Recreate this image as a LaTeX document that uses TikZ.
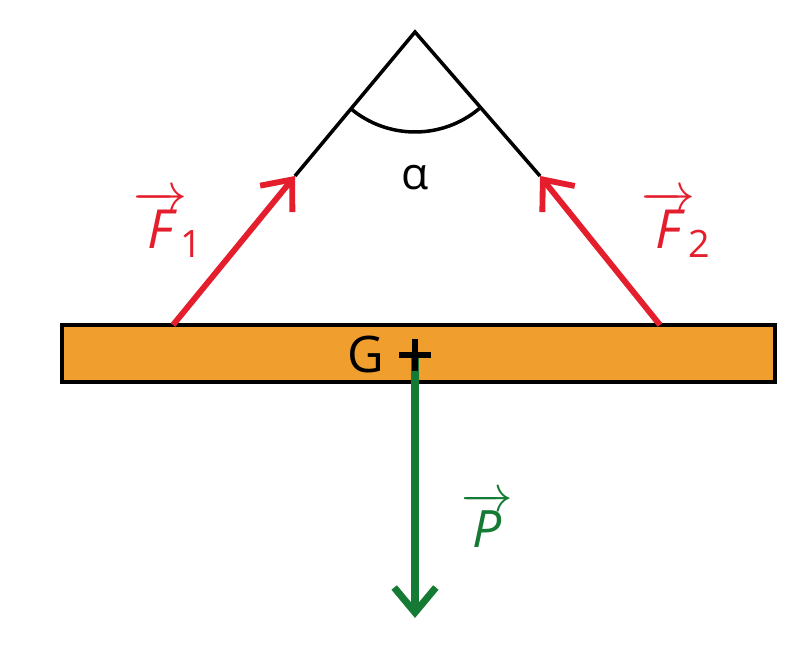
\RequirePackage{fix-cm}
\documentclass[tikz,border=0pt]{standalone}
\usepackage{amsmath}
\usepackage{fontspec}
\setmainfont{Open Sans}
\usetikzlibrary{arrows.meta}
\definecolor{forcered}{RGB}{228,30,45}
\definecolor{weightgreen}{RGB}{20,122,52}
\definecolor{barorange}{RGB}{240,158,45}

\begin{document}
\begin{tikzpicture}[x=0.03cm,y=0.03cm,>={Straight Barb[length=0.75cm,width=1.25cm]}]
  \useasboundingbox (0,0) rectangle (803,652);
  % bar and its centre of gravity
  \node[draw,line width=3.4pt,fill=barorange,minimum width=21.39cm,minimum height=1.71cm,inner sep=0pt] (bar) at (418.5,298.5) {};
  \node[font=\fontsize{43}{46}\selectfont] (g) at (366,297) {G};
  \coordinate (gc) at (415,297);
  \coordinate (ptip) at (415,34);
  % strings
  \coordinate (top) at (415,620);
  \coordinate (t1) at (295,476);
  \coordinate (t2) at (540,476);
  \coordinate (f1) at (173,327);
  \coordinate (f2) at (660,327);
  \draw[line width=3pt] (t1) -- (top) -- (t2);
  \draw[line width=3pt] (top) ++(230:100) arc[start angle=230,end angle=310,radius=100];
  \node[font=\fontsize{38}{40}\selectfont] (alpha) at (415,474) {α};
  % forces
  \draw[->,forcered,line width=5pt] (f1) -- (t1);
  \draw[->,forcered,line width=5pt] (f2) -- (t2);
  \draw[->,weightgreen,line width=6pt] (gc) -- (ptip);
  \draw[line width=5.5pt] (gc) ++(-16,0) -- ++(32,0);
  \draw[line width=5.5pt] (gc) ++(0,-16) -- ++(0,32);
  \node[text=forcered,font=\fontsize{46}{50}\selectfont] (lf1) at (168,428) {$\overrightarrow{\textit{F}}\kern-6pt{}_{\text{1}}$};
  \node[text=forcered,font=\fontsize{46}{50}\selectfont] (lf2) at (676,428) {$\overrightarrow{\textit{F}}\kern-6pt{}_{\text{2}}$};
  \node[text=weightgreen,font=\fontsize{44}{48}\selectfont] (lp) at (487,132) {$\overrightarrow{\textit{P}}$};
\end{tikzpicture}
\end{document}
